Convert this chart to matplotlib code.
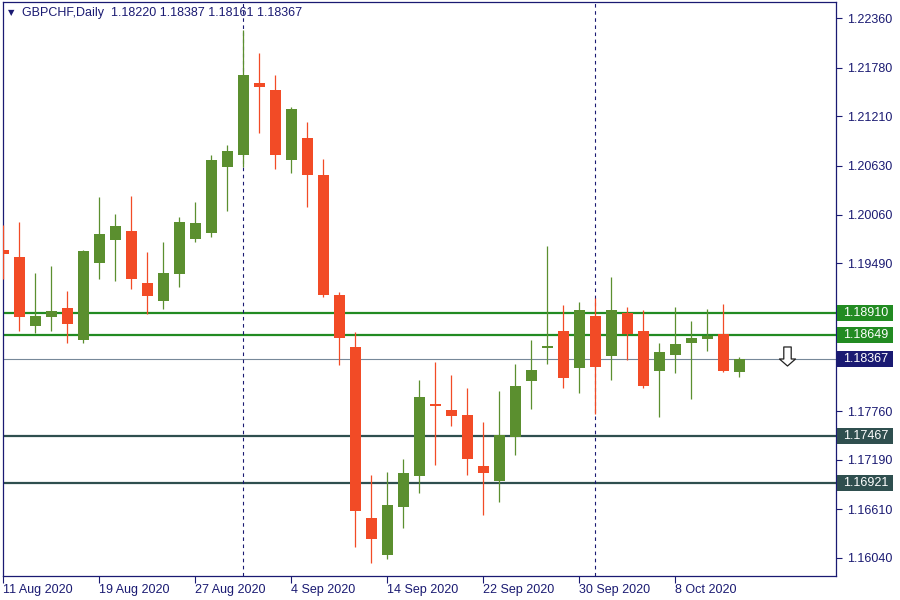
import matplotlib
matplotlib.use("Agg")
import matplotlib.pyplot as plt
import matplotlib.transforms as mtransforms
from matplotlib.patches import Rectangle
from matplotlib.path import Path
import numpy as np
import pandas as pd

# ---------------- data ----------------
dates = pd.bdate_range("2020-08-11", periods=47)

opens = [1.19645, 1.19563, 1.18759, 1.18864, 1.18966, 1.18595, 1.19496, 1.19765, 1.19867, 1.19258,
         1.19051, 1.19367, 1.19777, 1.19847, 1.20620, 1.20760, 1.21599, 1.21517, 1.20702, 1.20959,
         1.20522, 1.19118, 1.18509, 1.16508, 1.16078, 1.16640, 1.17003, 1.17842, 1.17772, 1.17714,
         1.17117, 1.16945, 1.17460, 1.18115, 1.18500, 1.18697, 1.18267, 1.18872, 1.18408, 1.18907,
         1.18697, 1.18232, 1.18419, 1.18560, 1.18607, 1.18665, 1.18220]
highs = [1.19937, 1.19972, 1.19376, 1.19457, 1.19165, 1.19645, 1.20265, 1.20066, 1.20277, 1.19621,
         1.19738, 1.20031, 1.20207, 1.20757, 1.20874, 1.22220, 1.21954, 1.21693, 1.21318, 1.21143,
         1.20710, 1.19150, 1.18688, 1.17011, 1.17046, 1.17199, 1.18123, 1.18334, 1.18182, 1.18030,
         1.17632, 1.17994, 1.18310, 1.18591, 1.19691, 1.19001, 1.19036, 1.19083, 1.19329, 1.18978,
         1.18942, 1.18556, 1.18978, 1.18814, 1.18954, 1.19013, 1.18387]
lows = [1.19305, 1.18700, 1.18670, 1.18700, 1.18560, 1.18560, 1.19309, 1.19285, 1.19192, 1.18899,
        1.18958, 1.19215, 1.19742, 1.19800, 1.20105, 1.20620, 1.21018, 1.20596, 1.20549, 1.20151,
        1.19098, 1.18302, 1.16172, 1.15985, 1.16032, 1.16394, 1.16804, 1.17132, 1.17588, 1.17015,
        1.16547, 1.16699, 1.17249, 1.17787, 1.18314, 1.18033, 1.17975, 1.17729, 1.18127, 1.18361,
        1.18033, 1.17694, 1.18209, 1.17904, 1.18466, 1.18220, 1.18161]
closes = [1.19598, 1.18864, 1.18872, 1.18927, 1.18782, 1.19633, 1.19832, 1.19926, 1.19309, 1.19110,
          1.19376, 1.19972, 1.19961, 1.20698, 1.20803, 1.21693, 1.21556, 1.20760, 1.21295, 1.20526,
          1.19122, 1.18618, 1.16593, 1.16266, 1.16660, 1.17035, 1.17924, 1.17822, 1.17705, 1.17202,
          1.17038, 1.17479, 1.18053, 1.18240, 1.18506, 1.18150, 1.18942, 1.18279, 1.18942, 1.18665,
          1.18056, 1.18451, 1.18545, 1.18615, 1.18638, 1.18230, 1.18367]

symbol = "GBPCHF,Daily"
level_prices = [1.18910, 1.18649, 1.17467, 1.16921]
level_colors = ["#228b22", "#228b22", "#2f4f4f", "#2f4f4f"]
bid_price = 1.18367

ytick_values = [1.22360, 1.21780, 1.21210, 1.20630, 1.20060, 1.19490, 1.18920,
                1.18340, 1.17760, 1.17190, 1.16610, 1.16040]
# tick labels hidden behind the price boxes on the scale
ytick_hidden = [1.18920, 1.18340]
xtick_dates = ["2020-08-11", "2020-08-19", "2020-08-27", "2020-09-04",
               "2020-09-14", "2020-09-22", "2020-09-30", "2020-10-08"]
xtick_labels = ["11 Aug 2020", "19 Aug 2020", "27 Aug 2020", "4 Sep 2020",
                "14 Sep 2020", "22 Sep 2020", "30 Sep 2020", "8 Oct 2020"]
separator_dates = ["2020-09-01", "2020-10-01"]
arrow_bar = 49
arrow_price = 1.18410

# ---------------- style ----------------
NAVY = "#1a1a72"
UP = "#5b8f2f"
DOWN = "#f24b26"
FONT = "Liberation Sans"
FS = 9

plt.rcParams["font.family"] = [FONT, "DejaVu Sans"]

fig = plt.figure(figsize=(9, 6), dpi=100)
ax = fig.add_axes([3 / 900, 24 / 600, 833 / 900, 574 / 600])
ax.set_facecolor("white")

idx = np.arange(len(opens))
o = np.array(opens); h = np.array(highs); l = np.array(lows); c = np.array(closes)
up = c >= o
cols = np.where(up, UP, DOWN)

# horizontal levels (behind candles)
for p, col in zip(level_prices, level_colors):
    ax.axhline(p, color=col, lw=1.6, zorder=1)
ax.axhline(bid_price, color="#778899", lw=0.8, zorder=1)

# period separators
date_index = {d.strftime("%Y-%m-%d"): i for i, d in enumerate(dates)}
for d in separator_dates:
    ax.axvline(date_index[d], color=NAVY, lw=0.8, ls=(0, (3.2, 3.2)), zorder=1.5)

# candles
ax.vlines(idx, l, h, colors=cols, lw=0.9, zorder=3)
min_h = 0.00016
body_bottom = np.minimum(o, c)
body_h = np.maximum(np.abs(c - o), min_h)
ax.bar(idx, body_h, bottom=body_bottom, width=0.69, color=cols, lw=0, zorder=4)

# arrow object
verts = [(-3.7, 9.5), (3.7, 9.5), (3.7, -2.5), (8, -2.5), (0, -9.5), (-8, -2.5),
         (-3.7, -2.5), (-3.7, 9.5)]
codes = [Path.MOVETO] + [Path.LINETO] * 6 + [Path.CLOSEPOLY]
arrow_marker = Path(verts, codes)
ax.plot([arrow_bar], [arrow_price], marker=arrow_marker, markersize=13.7,
        markerfacecolor="white", markeredgecolor="#222222", markeredgewidth=0.9,
        ls="none", zorder=5)

# limits
ax.set_xlim(-0.02, 52.04)
ax.set_ylim(1.15829, 1.22548)

# axes styling
for sp in ax.spines.values():
    sp.set_color(NAVY)
    sp.set_linewidth(0.9)

ax.yaxis.tick_right()
ax.set_yticks(ytick_values)
ax.set_yticklabels(["" if v in ytick_hidden else f"{v:.5f}" for v in ytick_values])
ax.tick_params(axis="y", direction="out", length=4, width=0.8, pad=4,
               colors=NAVY, labelsize=FS)

ax.set_xticks([date_index[d] for d in xtick_dates])
ax.set_xticklabels(xtick_labels)
ax.tick_params(axis="x", direction="out", length=5, width=0.8, pad=1,
               colors=NAVY, labelsize=FS)
for lab in ax.get_xticklabels():
    lab.set_horizontalalignment("left")

# header
fig.text(11 / 900, 1 - 13 / 600, "\u25bc", fontsize=6, color=NAVY,
         family="DejaVu Sans", ha="center", va="center")
header = f"{symbol}  {opens[-1]:.5f} {highs[-1]:.5f} {lows[-1]:.5f} {closes[-1]:.5f}"
fig.text(22 / 900, 1 - 13 / 600, header, fontsize=FS, color=NAVY,
         ha="left", va="center")

# price labels on the right scale
ident = mtransforms.IdentityTransform()
box_items = list(zip(level_prices, level_colors)) + [(bid_price, NAVY)]
for p, col in box_items:
    yc = ax.transData.transform((0, p))[1]
    fig.add_artist(Rectangle((837, yc - 8), 56, 16, transform=ident,
                             facecolor=col, edgecolor="none", zorder=5))
    fig.text(843, yc, f"{p:.5f}", transform=ident, fontsize=FS, color="white",
             ha="left", va="center", zorder=6)

fig.savefig("out.png", dpi=100, facecolor="white")
